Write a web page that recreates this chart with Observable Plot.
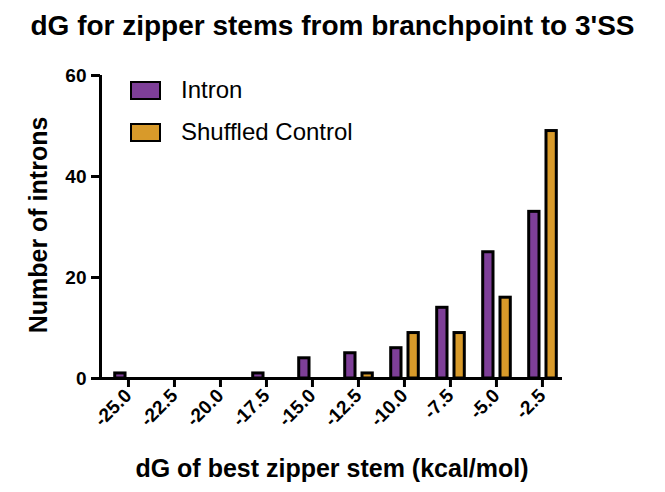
<!DOCTYPE html><html><head>
<script src="https://cdn.jsdelivr.net/npm/d3@7"></script>
<script src="https://cdn.jsdelivr.net/npm/@observablehq/plot@0.6"></script>
<style>body{margin:0;font-family:"Liberation Sans",Arial,sans-serif;background:#fff}
#t{position:absolute;left:0;width:665px;top:10px;text-align:center;font-weight:bold;font-size:28px;white-space:nowrap}
.lg{position:absolute;left:130px;font-size:24px;display:flex;align-items:center}
.lg span{display:inline-block;width:27px;height:15px;border:2.5px solid #000;margin-right:20px}
</style></head><body>
<div id="t">dG for zipper stems from branchpoint to 3'SS</div>
<div class="lg" style="top:76px"><span style="background:#7e3f98"></span>Intron</div>
<div class="lg" style="top:118px"><span style="background:#d89a2a"></span>Shuffled Control</div>
<div id="c" style="position:absolute;top:50px;left:0"></div>
<script>
const bins = [-25,-22.5,-20,-17.5,-15,-12.5,-10,-7.5,-5,-2.5];
const intronVals = [1,0,0,1,4,5,6,14,25,33];
const shuffledVals = [0,0,0,0,0,1,9,9,16,49];
const yTicks = [0,20,40,60];
const rows = [];
bins.forEach((b,i)=>{
  rows.push({x1:b-0.72,x2:b-0.16,y:intronVals[i],c:"#7e3f98"});
  rows.push({x1:b+0.22,x2:b+0.78,y:shuffledVals[i],c:"#d89a2a"});
});
const shown = rows.filter(r=>r.y>0);
const p = Plot.plot({
  width:665,height:442,marginLeft:100,marginRight:103,marginTop:25,marginBottom:114,
  style:{fontFamily:"'Liberation Sans',Arial,sans-serif",fontWeight:"bold",color:"#000",overflow:"visible"},
  x:{domain:[-26.52,-1.41],label:null},
  y:{domain:[0,60],label:null},
  marks:[
    Plot.rectY(shown,{x1:"x1",x2:"x2",y:"y",fill:"c",stroke:"#000",strokeWidth:3}),
    Plot.axisX({ticks:bins,tickFormat:d=>d.toFixed(1),tickRotate:-45,tickSize:9,strokeWidth:3,tickPadding:5,label:null,fontSize:19}),
    Plot.axisY({ticks:yTicks,tickSize:9,strokeWidth:3,tickPadding:5,label:null,fontSize:19}),
    Plot.ruleY([0],{strokeWidth:3}),
    Plot.ruleX([-26.52],{strokeWidth:3})
  ]
});
document.getElementById("c").appendChild(p);
const svg=d3.select(p);
svg.append("text").attr("x",332).attr("y",427).attr("text-anchor","middle").attr("font-size",25).attr("font-weight","bold").text("dG of best zipper stem (kcal/mol)");
svg.append("text").attr("transform","translate(47,175) rotate(-90)").attr("text-anchor","middle").attr("font-size",25).attr("font-weight","bold").text("Number of introns");
</script></body></html>
